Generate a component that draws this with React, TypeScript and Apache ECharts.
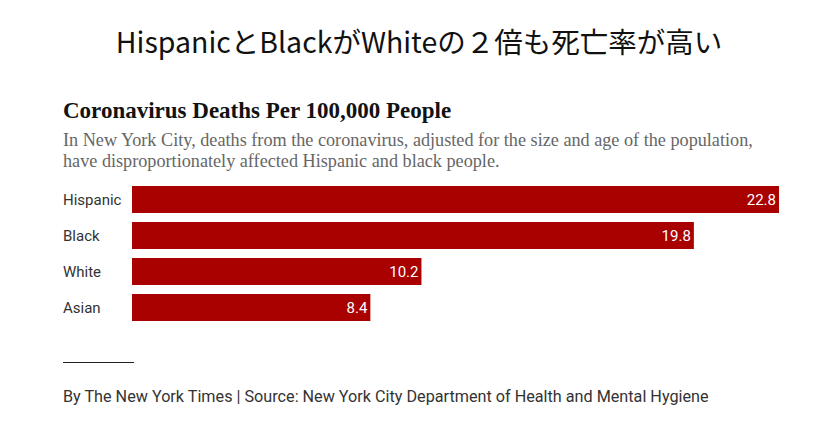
import React, { useEffect, useRef } from "react";
import * as echarts from "echarts";

const categories = ["Hispanic", "Black", "White", "Asian"];
const values = [22.8, 19.8, 10.2, 8.4];

const headline = "HispanicとBlackがWhiteの２倍も死亡率が高い";
const chartTitle = "Coronavirus Deaths Per 100,000 People";
const descLines = [
  "In New York City, deaths from the coronavirus, adjusted for the size and age of the population,",
  "have disproportionately affected Hispanic and black people.",
];
const footer = "By The New York Times | Source: New York City Department of Health and Mental Hygiene";

export default function App() {
  const ref = useRef<HTMLDivElement>(null);
  useEffect(() => {
    document.body.style.margin = "0";
    const chart = echarts.init(ref.current!, null, { renderer: "svg" });
    chart.setOption({
      animation: false,
      backgroundColor: "#ffffff",
      grid: { left: 132, right: 52, top: 181.5, height: 144, containLabel: false },
      xAxis: {
        type: "value",
        min: 0,
        max: 22.8,
        show: false,
      },
      yAxis: {
        type: "category",
        data: categories,
        inverse: true,
        axisLine: { show: false },
        axisTick: { show: false },
        splitLine: { show: false },
        axisLabel: {
          align: "left",
          margin: 69,
          color: "#333333",
          fontSize: 15,
          fontFamily: "Roboto",
        },
      },
      series: [
        {
          type: "bar",
          data: values,
          barCategoryGap: "25%",
          itemStyle: { color: "#a90000" },
          label: {
            show: true,
            position: "insideRight",
            color: "#ffffff",
            fontSize: 15,
            fontFamily: "Roboto",
            offset: [2, 0],
            formatter: (p: any) => p.value.toFixed(1),
          },
        },
      ],
      graphic: [
        {
          type: "text",
          x: 419,
          y: 40,
          style: {
            text: headline,
            fill: "#111111",
            fontSize: 28.5,
            fontFamily: "Noto Sans CJK JP",
            align: "center",
            verticalAlign: "middle",
          },
        },
        {
          type: "text",
          x: 63,
          y: 110,
          style: {
            text: chartTitle,
            fill: "#121212",
            fontSize: 23,
            fontWeight: "bold",
            fontFamily: "Liberation Serif",
            verticalAlign: "middle",
          },
        },
        ...descLines.map((t, i) => ({
          type: "text",
          x: 63,
          y: 140 + i * 21,
          style: {
            text: t,
            fill: "#666666",
            fontSize: 18.2,
            fontFamily: "Liberation Serif",
            verticalAlign: "middle",
          },
        })),
        {
          type: "line",
          shape: { x1: 63, y1: 362.5, x2: 134, y2: 362.5 },
          style: { stroke: "#222222", lineWidth: 1 },
        },
        {
          type: "text",
          x: 63,
          y: 396,
          style: {
            text: footer,
            fill: "#333333",
            fontSize: 16.2,
            fontFamily: "Roboto",
            verticalAlign: "middle",
          },
        },
      ],
    });
    return () => chart.dispose();
  }, []);
  return <div ref={ref} style={{ width: 831, height: 424 }} />;
}
